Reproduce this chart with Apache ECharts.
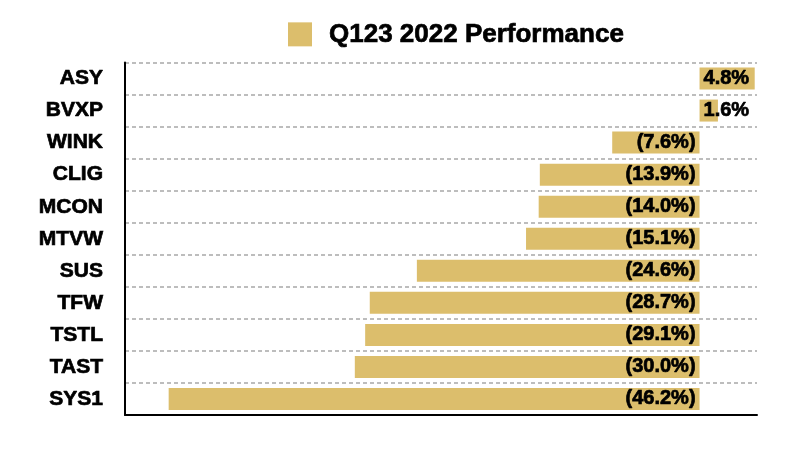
<!DOCTYPE html>
<html><head><meta charset="utf-8">
<script src="https://cdn.jsdelivr.net/npm/echarts@6/dist/echarts.min.js"></script>
<style>html,body{margin:0;padding:0;background:#fff}#c{width:800px;height:450px}</style>
</head><body><div id="c"></div>
<script>
const categories = ["ASY","BVXP","WINK","CLIG","MCON","MTVW","SUS","TFW","TSTL","TAST","SYS1"];
const values = [4.8, 1.6, -7.6, -13.9, -14.0, -15.1, -24.6, -28.7, -29.1, -30.0, -46.2];
const seriesName = "Q123 2022 Performance";

const chart = echarts.init(document.getElementById('c'), null, {renderer:'canvas'});
const fmt = v => v < 0 ? '(' + Math.abs(v).toFixed(1) + '%)' : v.toFixed(1) + '%';
const heavy = {fontFamily:'Liberation Sans', fontWeight:'bold', color:'#000', textBorderColor:'#000', textBorderWidth:0.7};
chart.setOption({
  animation:false,
  backgroundColor:'#fff',
  legend:{
    top:16, left:283,
    itemWidth:24, itemHeight:24, itemGap:10,
    icon:'rect',
    textStyle:Object.assign({}, heavy, {fontSize:26, padding:[0,0,0,12]}),
    data:[seriesName]
  },
  grid:{left:125, right:43, top:62.5, bottom:35},
  xAxis:{
    type:'value', min:-50, max:5,
    axisLine:{show:true, onZero:false, lineStyle:{color:'#000', width:2}},
    axisTick:{show:false}, axisLabel:{show:false}, splitLine:{show:false}
  },
  yAxis:{
    type:'category', inverse:true, data:categories,
    axisLine:{show:true, onZero:false, lineStyle:{color:'#000', width:2}},
    axisTick:{show:false},
    axisLabel:Object.assign({}, heavy, {fontSize:21, margin:22}),
    splitLine:{show:true, lineStyle:{color:'#bdbdbd', type:[4,3], width:2}}
  },
  series:[{
    name:seriesName, type:'bar', barWidth:22,
    itemStyle:{color:'#dcbe6c'},
    data: values.map(v => ({
      value:v,
      label:Object.assign({show:true, position: v < 0 ? 'insideRight' : 'insideLeft', distance:4,
        formatter: p => fmt(p.value), fontSize:20}, heavy)
    }))
  }]
});
</script></body></html>
